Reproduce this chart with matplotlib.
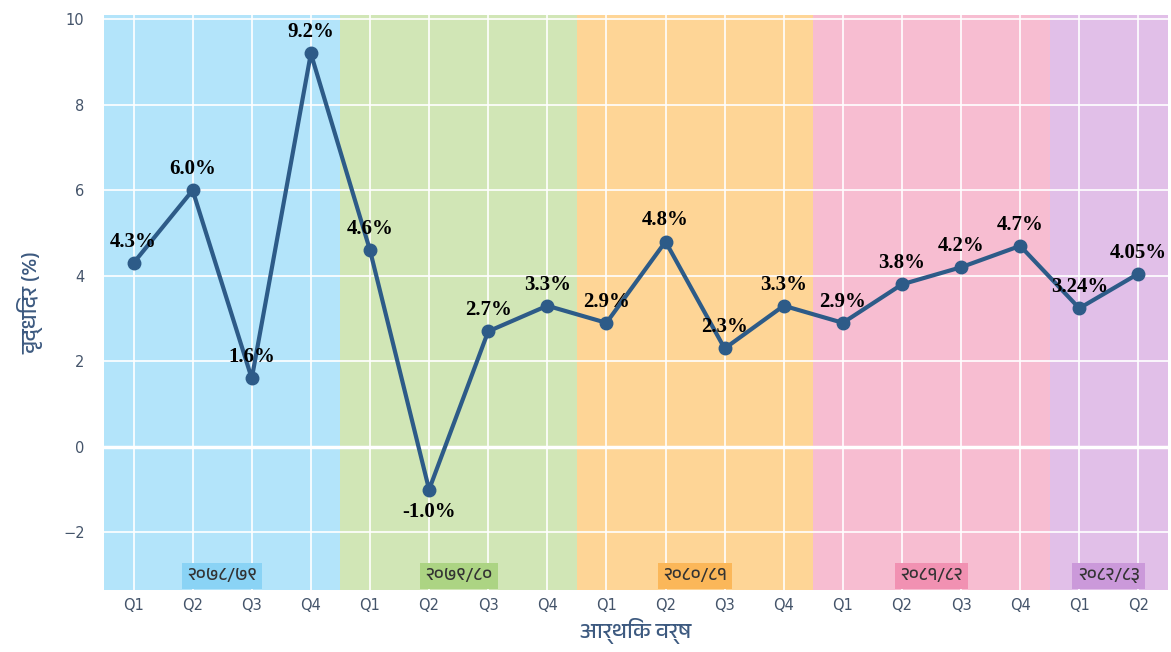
import matplotlib
matplotlib.use("Agg")
import matplotlib.pyplot as plt
from matplotlib import font_manager

quarters = ["Q1", "Q2", "Q3", "Q4", "Q1", "Q2", "Q3", "Q4", "Q1", "Q2", "Q3", "Q4",
            "Q1", "Q2", "Q3", "Q4", "Q1", "Q2"]
growth = [4.3, 6.0, 1.6, 9.2, 4.6, -1.0, 2.7, 3.3, 2.9, 4.8, 2.3, 3.3,
          2.9, 3.8, 4.2, 4.7, 3.24, 4.05]
point_labels = ["4.3%", "6.0%", "1.6%", "9.2%", "4.6%", "-1.0%", "2.7%", "3.3%", "2.9%",
                "4.8%", "2.3%", "3.3%", "2.9%", "3.8%", "4.2%", "4.7%", "3.24%", "4.05%"]
fiscal_years = ["२०७८/७९", "२०७९/८०", "२०८०/८१", "२०८१/८२", "२०८२/८३"]
quarters_per_year = [4, 4, 4, 4, 2]
band_colors = ["#b3e4fa", "#d1e6b6", "#fed596", "#f7bdd1", "#e1bfe8"]
tag_colors = ["#8ad3f5", "#acd483", "#fbb759", "#f191b2", "#cb99da"]

# pick a font with Devanagari glyphs if one is around
deva = [f.name for f in font_manager.fontManager.ttflist
        if "devanagari" in f.name.lower() or "mukta" in f.name.lower()
        or "lohit" in f.name.lower() or "mangal" in f.name.lower()]
sans = (deva[:1] if deva else []) + ["DejaVu Sans"]
plt.rcParams["font.family"] = ["DejaVu Sans"] + (deva[:1] if deva else [])

tick_color = "#44546a"

fig = plt.figure(figsize=(11.71, 6.52), dpi=100)
ax = fig.add_axes([0.0888, 0.095, 0.9086, 0.882])

x = list(range(len(growth)))
ax.set_xlim(-0.5, len(growth) - 0.5)
ax.set_ylim(-3.35, 10.1)

start = 0
for name, n, bc, tc in zip(fiscal_years, quarters_per_year, band_colors, tag_colors):
    ax.axvspan(start - 0.5, start + n - 0.5, color=bc, lw=0, zorder=0)
    ax.text(start + (n - 1) / 2, -3.02, name, ha="center", va="center",
            fontsize=13, color="#333333", family=sans, zorder=3,
            bbox=dict(boxstyle="square,pad=0.3", fc=tc, ec="none"))
    start += n

ax.set_xticks(x)
ax.set_xticklabels(quarters)
ax.set_yticks([-2, 0, 2, 4, 6, 8, 10])
ax.set_yticklabels(["\u22122", "0", "2", "4", "6", "8", "10"])
ax.grid(True, color="white", lw=1.2, zorder=1)
ax.axhline(0, color="white", lw=2.5, zorder=1)
ax.set_axisbelow(True)
for s in ax.spines.values():
    s.set_visible(False)
ax.tick_params(length=0, labelsize=10.5, colors=tick_color)
ax.tick_params(axis="x", pad=6)
ax.tick_params(axis="y", pad=14)

ax.plot(x, growth, color="#2d5b88", lw=3, marker="o", ms=9, zorder=4)

for xi, yi, lab in zip(x, growth, point_labels):
    if yi < 0:
        ax.annotate(lab, (xi, yi), xytext=(0, -9), textcoords="offset points",
                    ha="center", va="top", fontsize=15, fontweight="bold",
                    family="Liberation Serif", zorder=5)
    else:
        ax.annotate(lab, (xi, yi), xytext=(0, 8), textcoords="offset points",
                    ha="center", va="bottom", fontsize=15, fontweight="bold",
                    family="Liberation Serif", zorder=5)

ax.set_xlabel("आर्थिक वर्ष", fontsize=16, color="#3d5a80", family=sans, labelpad=3)
ax.set_ylabel("वृद्धिदर (%)", fontsize=16, color="#3d5a80", family=sans, labelpad=14)

fig.savefig("out.png", dpi=100)
